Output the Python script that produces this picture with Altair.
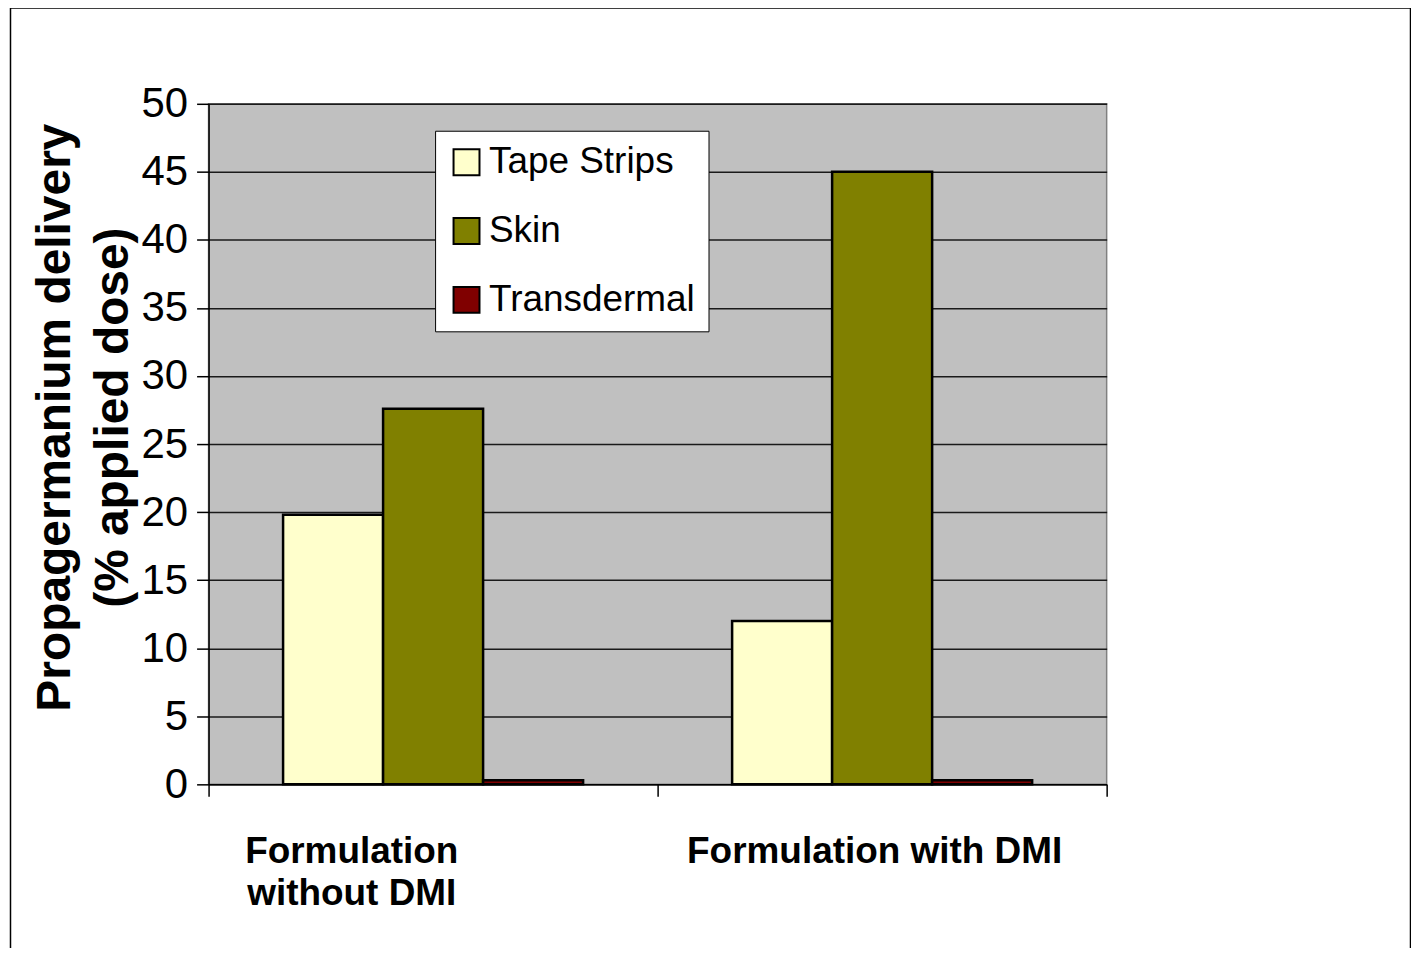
import altair as alt
import pandas as pd

categories = ["Formulation without DMI", "Formulation with DMI"]
series = ["Tape Strips", "Skin", "Transdermal"]
tape_strips = [19.8, 12.0]
skin = [27.6, 45.0]
transdermal = [0.3, 0.3]
colors = ["#FFFFCC", "#808000", "#800000"]
y_ticks = list(range(0, 51, 5))

rows = []
for s, vals in zip(series, [tape_strips, skin, transdermal]):
    for c, v in zip(categories, vals):
        rows.append({"group": c, "series": s, "value": v})
df = pd.DataFrame(rows)

FONT = "Liberation Sans"

bars = alt.Chart(df).mark_bar(stroke="black", strokeWidth=2.5).encode(
    x=alt.X(
        "group:N",
        sort=categories,
        scale=alt.Scale(paddingInner=0, paddingOuter=0),
        axis=alt.Axis(
            title=None,
            labelAngle=0,
            labelFont=FONT,
            labelFontSize=37,
            labelFontWeight="bold",
            labelColor="black",
            labelBaseline="top",
            labelLineHeight=42,
            labelPadding=37,
            labelLimit=600,
            labelExpr="datum.value == 'Formulation without DMI' ? ['Formulation', 'without DMI'] : datum.value",
            labelOffset={"condition": {"test": "datum.value == 'Formulation without DMI'", "value": -82}, "value": -8},
            tickBand="extent",
            tickSize=12,
            tickColor="black",
            tickWidth=1.5,
            domainColor="black",
            domainWidth=1.5,
            grid=False,
        ),
    ),
    xOffset=alt.XOffset("series:N", sort=series,
                        scale=alt.Scale(domain=series, paddingInner=0, paddingOuter=0.745)),
    y=alt.Y(
        "value:Q",
        scale=alt.Scale(domain=[0, 50], nice=False),
        axis=alt.Axis(
            values=y_ticks,
            title=["Propagermanium delivery", "(% applied dose)"],
            titleFont=FONT,
            titleFontSize=48,
            titleFontWeight="bold",
            titleColor="black",
            titleLineHeight=58,
            titleAngle=-90,
            titleAlign="center",
            titleBaseline="alphabetic",
            titleX=-139,
            titleY=314,
            labelFont=FONT,
            labelFontSize=42,
            labelColor="black",
            labelPadding=9,
            tickSize=12,
            tickColor="black",
            tickWidth=1.5,
            domainColor="black",
            domainWidth=1.5,
            grid=True,
            gridColor="#1a1a1a",
            gridWidth=1.5,
        ),
    ),
    color=alt.Color(
        "series:N",
        sort=series,
        scale=alt.Scale(domain=series, range=colors),
        legend=alt.Legend(
            title=None,
            orient="none",
            legendX=227,
            legendY=27,
            padding=13,
            fillColor="white",
            strokeColor="black",
            symbolType="square",
            symbolSize=676,
            symbolStrokeColor="black",
            symbolStrokeWidth=2,
            symbolOpacity=1,
            labelFont=FONT,
            labelFontSize=37,
            labelColor="black",
            labelOffset=4,
            labelLimit=400,
            rowPadding=31,
        ),
    ),
)

border = alt.Chart(alt.Data(values=[{"k": 1}])).mark_rect(
    fill="white", fillOpacity=0, stroke="black", strokeWidth=1.5
).encode(
    x=alt.value(-198.5), x2=alt.value(1204.5),
    y=alt.value(-96), y2=alt.value(900),
)

chart = alt.layer(bars, border).properties(
    width=900,
    height=682,
    autosize=alt.AutoSizeParams(type="none"),
    padding={"left": 201, "top": 95, "right": 305, "bottom": 163},
    background="white",
).configure_view(
    fill="#C0C0C0", stroke="#808080", strokeWidth=1.5
)

chart.save("out.html", embed_options={"renderer": "svg", "actions": False})
